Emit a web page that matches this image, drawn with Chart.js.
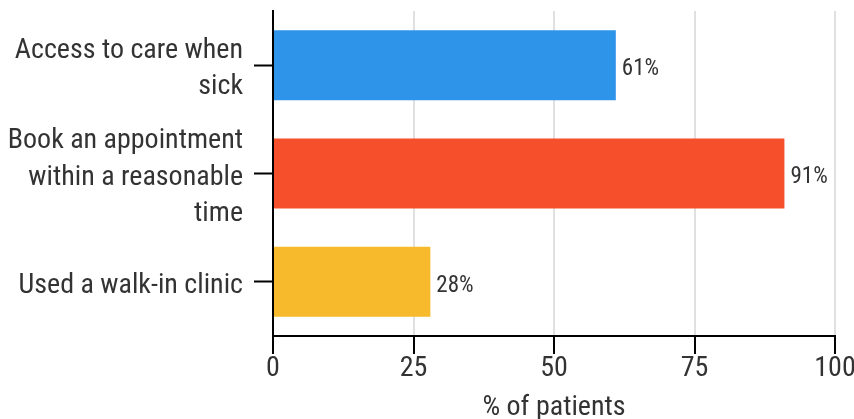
<!DOCTYPE html>
<html>
<head>
<meta charset="utf-8">
<script src="https://cdn.jsdelivr.net/npm/chart.js@4/dist/chart.umd.min.js"></script>
<style>
  html, body { margin: 0; padding: 0; background: #fff; overflow: hidden; }
  #wrap { width: 854px; height: 419px; position: relative; }
</style>
</head>
<body>
<div id="wrap"><canvas id="chart"></canvas></div>
<script>
const categories = [
  ["Access to care when", "sick"],
  ["Book an appointment", "within a reasonable", "time"],
  "Used a walk-in clinic",
];
const values = [61, 91, 28];
const barColors = ["#2e94ea", "#f5502b", "#f6ba2c"];
const xMin = 0;
const xMax = 100;
const xStep = 25;
const axisTitle = "% of patients";

const FONT = "'Roboto Condensed', 'Liberation Sans Narrow', Roboto, sans-serif";
const TEXT_COLOR = "#333333";
const GRID_COLOR = "#e0e0e0";
const TEXT_NUDGE = 4; // reference text sits a little below the tick centre

// "61%" style labels just past the end of each bar
const valueLabels = {
  id: "valueLabels",
  afterDatasetsDraw(chart) {
    const ctx = chart.ctx;
    const meta = chart.getDatasetMeta(0);
    ctx.save();
    ctx.font = "23px " + FONT;
    ctx.fillStyle = TEXT_COLOR;
    ctx.textAlign = "left";
    ctx.textBaseline = "middle";
    meta.data.forEach((bar, i) => {
      ctx.fillText(values[i] + "%", bar.x + 6, bar.y + TEXT_NUDGE);
    });
    ctx.restore();
  },
};

new Chart(document.getElementById("chart"), {
  type: "bar",
  data: {
    labels: categories,
    datasets: [
      {
        data: values,
        backgroundColor: barColors,
        borderWidth: 0,
        categoryPercentage: 1,
        barPercentage: 0.646,
      },
    ],
  },
  plugins: [valueLabels],
  options: {
    indexAxis: "y",
    responsive: true,
    maintainAspectRatio: false,
    animation: false,
    layout: { padding: { top: 11, right: 19, left: 0, bottom: 0 } },
    plugins: {
      legend: { display: false },
      tooltip: { enabled: false },
    },
    scales: {
      x: {
        min: xMin,
        max: xMax,
        ticks: {
          stepSize: xStep,
          color: TEXT_COLOR,
          font: { family: FONT, size: 28, lineHeight: 1 },
          padding: 1,
        },
        grid: {
          color: GRID_COLOR,
          lineWidth: 2,
          tickColor: "#000",
          tickLength: 18,
          tickWidth: 2,
        },
        border: { color: "#000", width: 2 },
        title: {
          display: true,
          text: axisTitle,
          color: TEXT_COLOR,
          font: { family: FONT, size: 28, lineHeight: 0.8 },
          padding: { top: 0, bottom: 0 },
        },
        afterFit(scale) {
          scale.height = 83;
          scale.paddingLeft = 0;
          scale.paddingRight = 0;
        },
      },
      y: {
        ticks: {
          autoSkip: false,
          color: TEXT_COLOR,
          font: { family: FONT, size: 28, lineHeight: 1.29 },
          padding: 11,
        },
        grid: {
          offset: false,
          drawOnChartArea: false,
          tickColor: "#000",
          tickLength: 19,
          tickWidth: 2,
        },
        border: { color: "#000", width: 2 },
        afterFit(scale) {
          scale.width = 273;
          scale.paddingTop = 0;
          scale.paddingBottom = 0;
          if (!scale._nudged) {
            // push the category labels down a few px, like the reference
            const draw = scale.drawLabels;
            scale.drawLabels = function (area) {
              this.ctx.save();
              this.ctx.translate(0, TEXT_NUDGE);
              draw.call(this, area);
              this.ctx.restore();
            };
            scale._nudged = true;
          }
        },
      },
    },
  },
});
</script>
</body>
</html>
